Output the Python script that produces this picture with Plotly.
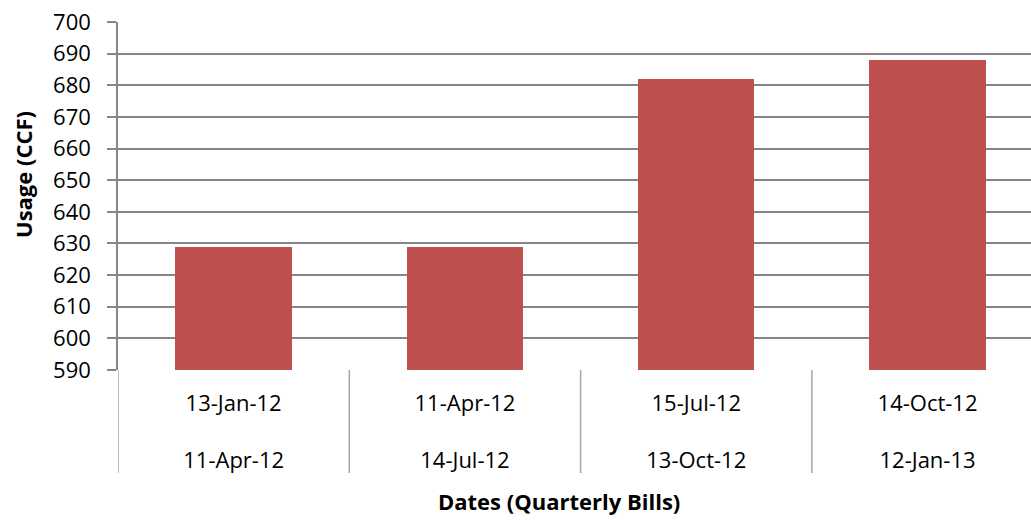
import plotly.graph_objects as go

# Quarterly billing periods (start / end) and metered usage in CCF
period_start = ["13-Jan-12", "11-Apr-12", "15-Jul-12", "14-Oct-12"]
period_end = ["11-Apr-12", "14-Jul-12", "13-Oct-12", "12-Jan-13"]
usage_ccf = [629, 629, 682, 688]

y_min, y_max, y_step = 590, 700, 10

W, H = 1031, 520
ML, MR, MT, MB = 118, 0, 22, 150
plot_w = W - ML - MR
plot_h = H - MT - MB
cat_px = 231.3  # width of one category slot

FONT = "Open Sans"
GRID = "#868686"
BAR = "#C0504D"

xpos = list(range(len(usage_ccf)))
ticktext = [f"{a}<br><br>{b}" for a, b in zip(period_start, period_end)]

fig = go.Figure(
    go.Bar(
        x=xpos,
        y=[v - y_min for v in usage_ccf],
        base=y_min,
        width=0.503,
        marker=dict(color=BAR, line=dict(width=0)),
        hoverinfo="skip",
    )
)

# vertical separators between the category slots, running under the axis
label_depth = 103 / plot_h
shapes = []
for i in range(len(usage_ccf)):
    shapes.append(
        dict(
            type="line", xref="x", yref="paper",
            x0=i - 0.5, x1=i - 0.5, y0=0, y1=-label_depth,
            line=dict(color="#A6A6A6", width=1.5),
        )
    )

fig.update_layout(
    width=W, height=H,
    margin=dict(l=ML, r=MR, t=MT, b=MB),
    paper_bgcolor="white", plot_bgcolor="white",
    showlegend=False,
    bargap=0,
    font=dict(family=FONT, size=22, color="#000000"),
    xaxis=dict(
        range=[-0.5, -0.5 + plot_w / cat_px],
        tickmode="array", tickvals=xpos, ticktext=ticktext,
        ticks="", showgrid=False, zeroline=False, showline=False,
        tickfont=dict(family=FONT, size=22, color="#000000"),
        ticklabelstandoff=18,
        fixedrange=True,
    ),
    yaxis=dict(
        range=[y_min, y_max],
        tick0=y_min, dtick=y_step,
        showgrid=True, gridcolor=GRID, gridwidth=1.5,
        showline=True, linecolor=GRID, linewidth=1.5,
        ticks="outside", ticklen=9, tickcolor=GRID, tickwidth=1.5,
        tickfont=dict(family=FONT, size=22, color="#000000"),
        ticklabelstandoff=12,
        zeroline=False, fixedrange=True,
    ),
    shapes=shapes,
    annotations=[
        dict(
            text="<b>Usage (CCF)</b>", xref="paper", yref="paper",
            x=(23 - ML) / plot_w, y=(370 - 175) / plot_h,
            xanchor="center", yanchor="middle", textangle=-90,
            showarrow=False, font=dict(family=FONT, size=22, color="#000000"),
        ),
        dict(
            text="<b>Dates (Quarterly Bills)</b>", xref="paper", yref="paper",
            x=(559 - ML) / plot_w, y=-(501 - 370) / plot_h,
            xanchor="center", yanchor="middle",
            showarrow=False, font=dict(family=FONT, size=22, color="#000000"),
        ),
    ],
)

fig.write_html("out.html")
